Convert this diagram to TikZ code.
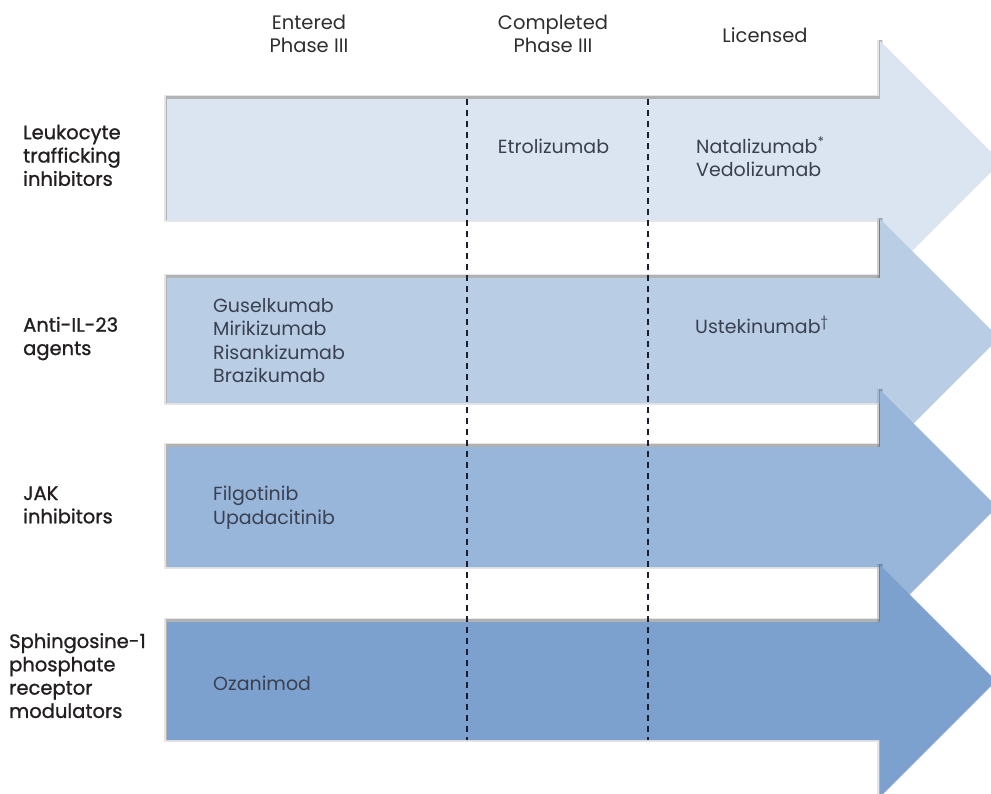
\documentclass[tikz,border=0pt]{standalone}
\usepackage{fontspec}
\setmainfont{Poppins}
\newfontfamily\medfont{Poppins}[FakeBold=1.0]
\definecolor{cA}{HTML}{DBE5F1}
\definecolor{cB}{HTML}{B9CDE5}
\definecolor{cC}{HTML}{98B5DA}
\definecolor{cD}{HTML}{7DA1CE}
\definecolor{drugc}{HTML}{3A4050}
\definecolor{labc}{HTML}{231F20}
\definecolor{headc}{HTML}{2E2E2E}
\definecolor{dashc}{HTML}{1C1E2C}
\tikzset{
  drug/.style={font=\fontsize{19}{23.5}\selectfont, text=drugc, inner sep=0pt, align=left, anchor=base west},
  drugc/.style={font=\fontsize{19}{23.5}\selectfont, text=drugc, inner sep=0pt, align=center, anchor=base},
  lab/.style={font=\medfont\fontsize{19.5}{23.3}\selectfont, text=labc, inner sep=0pt, align=left, anchor=base west},
  head/.style={font=\fontsize{19.5}{23}\selectfont, text=headc, inner sep=0pt, align=center, anchor=base},
  dashline/.style={draw=dashc, line width=1.6pt, dash pattern=on 6pt off 5pt},
  shadowa/.style={draw=black, opacity=0.10, line width=6pt},
  shadowb/.style={draw=black, opacity=0.22, line width=3pt},
}
% #1 shaft top, #2 shaft bottom, #3 head top, #4 head bottom, #5 tip x, #6 centre y, #7 colour
\newcommand\pharrow[7]{%
  \begin{scope}[yshift=1.2pt]
  \draw[shadowa] (880,#3) -- (880,#1) -- (167,#1) -- (167,#2) -- (880,#2) -- (880,#4);
  \draw[shadowb] (880,#3) -- (880,#1) -- (167,#1) -- (167,#2) -- (880,#2) -- (880,#4);
  \end{scope}
  \fill[#7] (167,#1) -- (880,#1) -- (880,#3) -- (#5,#6) -- (880,#4) -- (880,#2) -- (167,#2) -- cycle;
}
\begin{document}
\begin{tikzpicture}[x=1pt,y=-1pt]
\useasboundingbox (0,0) rectangle (991,793);
\fill[white] (0,0) rectangle (991,793);

% arrows
\pharrow{99}{220}{41}{283}{1001}{162}{cA}
\pharrow{278}{403}{219}{457}{999}{338}{cB}
\pharrow{447}{567}{390}{624}{997}{507}{cC}
\pharrow{622}{740}{565}{797}{996}{681}{cD}

% dashed phase separators
\coordinate (d1t) at (467,99);
\coordinate (d1b) at (467,740);
\coordinate (d2t) at (648,99);
\coordinate (d2b) at (648,740);
\draw[dashline] (d1t) -- (d1b);
\draw[dashline] (d2t) -- (d2b);

% column headers (anchor = baseline of last line)
\node[head] (h1) at (309,52.5) {Entered\\Phase III};
\node[head] (h2) at (553,52.5) {Completed\\Phase III};
\node[head] (h3) at (765,42) {Licensed};

% row labels
\node[lab] (l1) at (23,185.8) {Leukocyte\\trafficking\\inhibitors};
\node[lab] (l2) at (23,355) {Anti-IL-23\\agents};
\node[lab] (l3) at (23,523.3) {JAK\\inhibitors};
\node[lab] (l4) at (9,717.9) {Sphingosine-1\\phosphate\\receptor\\modulators};

% drugs
\node[drugc] (etro) at (553.5,153) {Etrolizumab};
\node[drug] (nata) at (696,176.5) {Natalizumab\textsuperscript{*}\\Vedolizumab};
\node[drug] (il23) at (213,382.5) {Guselkumab\\Mirikizumab\\Risankizumab\\Brazikumab};
\node[drug] (uste) at (695,333) {Ustekinumab\textsuperscript{\dag}};
\node[drug] (jak) at (213,524.2) {Filgotinib\\Upadacitinib};
\node[drug] (ozan) at (213,690) {Ozanimod};
\end{tikzpicture}
\end{document}
